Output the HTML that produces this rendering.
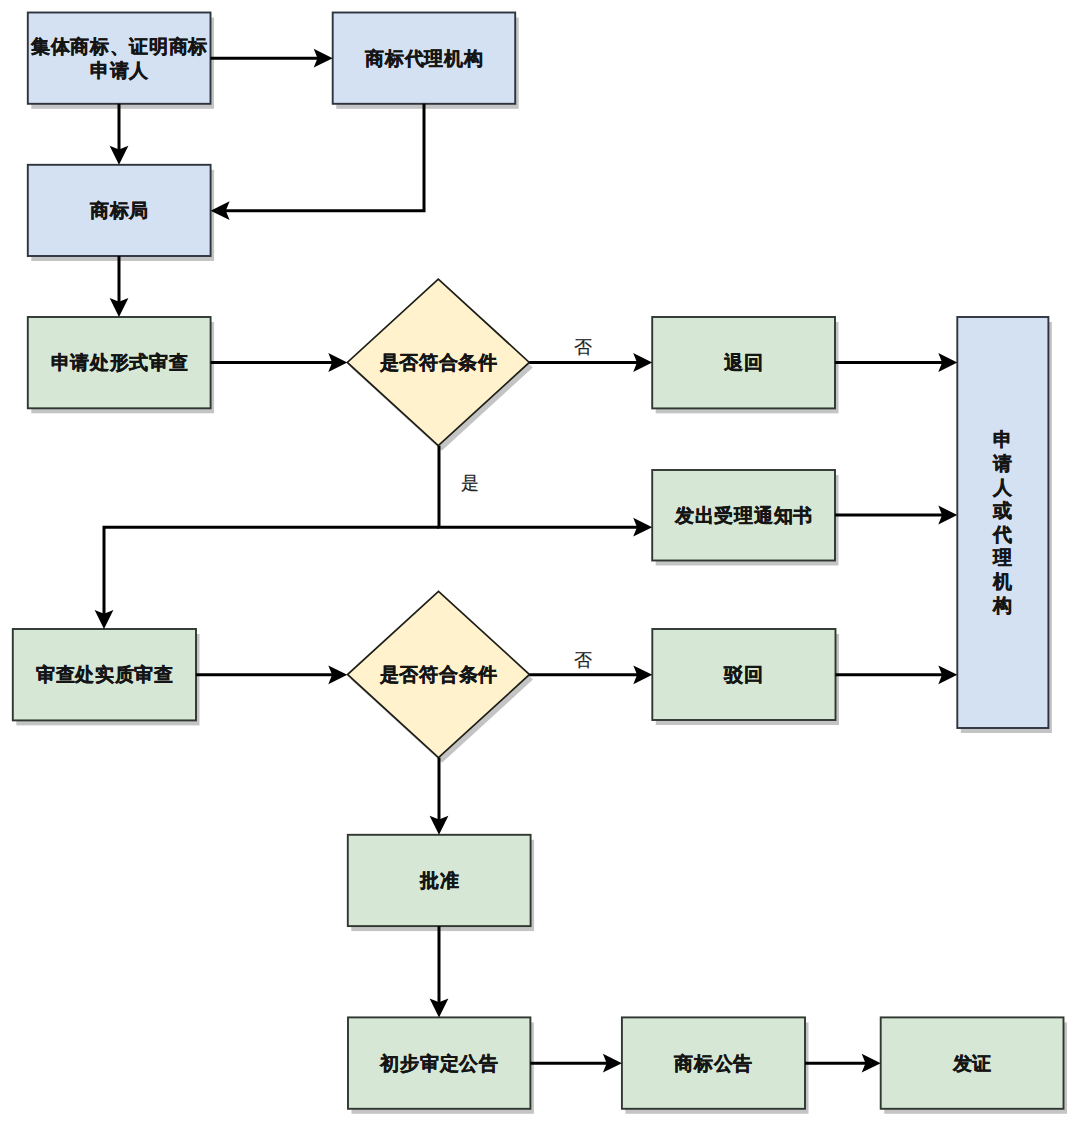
<!DOCTYPE html>
<html><head><meta charset="utf-8"><style>
html,body{margin:0;padding:0;background:#fff;width:1080px;height:1126px;overflow:hidden}
svg{display:block}
text{font-family:"Liberation Sans",sans-serif;text-anchor:middle;dominant-baseline:central}
.b{font-size:19px;font-weight:bold;fill:#151515;stroke:#151515;stroke-width:0.4px;letter-spacing:0.7px}
.r{font-size:18px;fill:#222;stroke:#222;stroke-width:0.2px}
</style></head><body>
<svg width="1080" height="1126" viewBox="0 0 1080 1126">
<defs><filter id="sh" x="-5%" y="-5%" width="110%" height="110%"><feGaussianBlur stdDeviation="0.6"/></filter></defs>
<g filter="url(#sh)">
<rect x="31.3" y="17.5" width="182.7" height="91.3" fill="#000" fill-opacity="0.23"/>
<rect x="336.2" y="17.5" width="182.5" height="91.3" fill="#000" fill-opacity="0.23"/>
<rect x="31.3" y="169.8" width="182.8" height="91.2" fill="#000" fill-opacity="0.23"/>
<rect x="31.3" y="322" width="182.8" height="91.3" fill="#000" fill-opacity="0.23"/>
<rect x="655.7" y="322" width="182.8" height="91.4" fill="#000" fill-opacity="0.23"/>
<rect x="655.7" y="475" width="182.8" height="90.5" fill="#000" fill-opacity="0.23"/>
<rect x="960.8" y="322" width="91.1" height="411.0" fill="#000" fill-opacity="0.23"/>
<rect x="16.3" y="634" width="183.2" height="91.4" fill="#000" fill-opacity="0.23"/>
<rect x="655.8" y="634" width="183.2" height="91.0" fill="#000" fill-opacity="0.23"/>
<rect x="351.3" y="839.8" width="182.8" height="91.3" fill="#000" fill-opacity="0.23"/>
<rect x="351.5" y="1022.4" width="182.4" height="91.4" fill="#000" fill-opacity="0.23"/>
<rect x="625.4" y="1022.4" width="183.1" height="91.4" fill="#000" fill-opacity="0.23"/>
<rect x="884.2" y="1022.4" width="182.8" height="91.4" fill="#000" fill-opacity="0.23"/>
<polygon points="441.8,284.09999999999997 532.8,367.4 441.8,450.7 350.8,367.4" fill="#000" fill-opacity="0.23"/>
<polygon points="442.0,596.3 533.0,679.5 442.0,762.7 351.0,679.5" fill="#000" fill-opacity="0.23"/>
</g>
<rect x="27.8" y="12.5" width="182.7" height="91.3" fill="#d4e1f3" stroke="#2e343e" stroke-width="1.9"/>
<rect x="332.7" y="12.5" width="182.5" height="91.3" fill="#d4e1f3" stroke="#2e343e" stroke-width="1.9"/>
<rect x="27.8" y="164.8" width="182.8" height="91.2" fill="#d4e1f3" stroke="#2e343e" stroke-width="1.9"/>
<rect x="27.8" y="317" width="182.8" height="91.3" fill="#d6e8d5" stroke="#2f3730" stroke-width="1.9"/>
<rect x="652.2" y="317" width="182.8" height="91.4" fill="#d6e8d5" stroke="#2f3730" stroke-width="1.9"/>
<rect x="652.2" y="470" width="182.8" height="90.5" fill="#d6e8d5" stroke="#2f3730" stroke-width="1.9"/>
<rect x="957.3" y="317" width="91.1" height="411.0" fill="#d4e1f3" stroke="#2e343e" stroke-width="1.9"/>
<rect x="12.8" y="629" width="183.2" height="91.4" fill="#d6e8d5" stroke="#2f3730" stroke-width="1.9"/>
<rect x="652.3" y="629" width="183.2" height="91.0" fill="#d6e8d5" stroke="#2f3730" stroke-width="1.9"/>
<rect x="347.8" y="834.8" width="182.8" height="91.3" fill="#d6e8d5" stroke="#2f3730" stroke-width="1.9"/>
<rect x="348" y="1017.4" width="182.4" height="91.4" fill="#d6e8d5" stroke="#2f3730" stroke-width="1.9"/>
<rect x="621.9" y="1017.4" width="183.1" height="91.4" fill="#d6e8d5" stroke="#2f3730" stroke-width="1.9"/>
<rect x="880.7" y="1017.4" width="182.8" height="91.4" fill="#d6e8d5" stroke="#2f3730" stroke-width="1.9"/>
<polygon points="438.3,279.09999999999997 529.3,362.4 438.3,445.7 347.3,362.4" fill="#fff2cc" stroke="#1e1e18" stroke-width="1.7"/>
<polygon points="438.5,591.3 529.5,674.5 438.5,757.7 347.5,674.5" fill="#fff2cc" stroke="#1e1e18" stroke-width="1.7"/>
<path d="M210.5,58.2 L319.7,58.2" fill="none" stroke="#000" stroke-width="3"/>
<polygon points="332.7,58.2 313.7,67.6 317.5,58.2 313.7,48.8" fill="#000"/>
<path d="M119.0,103.8 L119.0,151.8" fill="none" stroke="#000" stroke-width="3"/>
<polygon points="119.0,164.8 109.6,145.8 119.0,149.6 128.4,145.8" fill="#000"/>
<path d="M424.0,103.8 L424.0,210.7 L223.6,210.7" fill="none" stroke="#000" stroke-width="3"/>
<polygon points="210.6,210.7 229.6,201.3 225.8,210.7 229.6,220.1" fill="#000"/>
<path d="M119.0,256.0 L119.0,304.0" fill="none" stroke="#000" stroke-width="3"/>
<polygon points="119.0,317.0 109.6,298.0 119.0,301.8 128.4,298.0" fill="#000"/>
<path d="M210.6,362.5 L334.3,362.5" fill="none" stroke="#000" stroke-width="3"/>
<polygon points="347.3,362.5 328.3,371.9 332.1,362.5 328.3,353.1" fill="#000"/>
<path d="M529.3,362.5 L639.2,362.5" fill="none" stroke="#000" stroke-width="3"/>
<polygon points="652.2,362.5 633.2,371.9 637.0,362.5 633.2,353.1" fill="#000"/>
<path d="M835.0,362.5 L944.3,362.5" fill="none" stroke="#000" stroke-width="3"/>
<polygon points="957.3,362.5 938.3,371.9 942.1,362.5 938.3,353.1" fill="#000"/>
<path d="M439.0,445.7 L439.0,527.2 L639.2,527.2" fill="none" stroke="#000" stroke-width="3"/>
<polygon points="652.2,527.2 633.2,536.6 637.0,527.2 633.2,517.8" fill="#000"/>
<path d="M439.0,527.2 L104.0,527.2 L104.0,616.0" fill="none" stroke="#000" stroke-width="3"/>
<polygon points="104.0,629.0 94.6,610.0 104.0,613.8 113.4,610.0" fill="#000"/>
<path d="M835.0,515.0 L944.3,515.0" fill="none" stroke="#000" stroke-width="3"/>
<polygon points="957.3,515.0 938.3,524.4 942.1,515.0 938.3,505.6" fill="#000"/>
<path d="M196.0,674.8 L334.3,674.8" fill="none" stroke="#000" stroke-width="3"/>
<polygon points="347.3,674.8 328.3,684.2 332.1,674.8 328.3,665.4" fill="#000"/>
<path d="M529.3,674.8 L639.3,674.8" fill="none" stroke="#000" stroke-width="3"/>
<polygon points="652.3,674.8 633.3,684.2 637.1,674.8 633.3,665.4" fill="#000"/>
<path d="M835.5,674.8 L944.3,674.8" fill="none" stroke="#000" stroke-width="3"/>
<polygon points="957.3,674.8 938.3,684.2 942.1,674.8 938.3,665.4" fill="#000"/>
<path d="M439.0,757.7 L439.0,821.8" fill="none" stroke="#000" stroke-width="3"/>
<polygon points="439.0,834.8 429.6,815.8 439.0,819.6 448.4,815.8" fill="#000"/>
<path d="M439.0,926.1 L439.0,1004.4" fill="none" stroke="#000" stroke-width="3"/>
<polygon points="439.0,1017.4 429.6,998.4 439.0,1002.2 448.4,998.4" fill="#000"/>
<path d="M530.4,1063.2 L608.9,1063.2" fill="none" stroke="#000" stroke-width="3"/>
<polygon points="621.9,1063.2 602.9,1072.6 606.7,1063.2 602.9,1053.8" fill="#000"/>
<path d="M805.0,1063.2 L867.7,1063.2" fill="none" stroke="#000" stroke-width="3"/>
<polygon points="880.7,1063.2 861.7,1072.6 865.5,1063.2 861.7,1053.8" fill="#000"/>
<text x="119.5" y="46.1" class="b">集体商标、证明商标</text>
<text x="119.5" y="70.2" class="b">申请人</text>
<text x="424.3" y="58.1" class="b">商标代理机构</text>
<text x="119.5" y="210.4" class="b">商标局</text>
<text x="119.5" y="362.6" class="b">申请处形式审查</text>
<text x="744.0" y="362.7" class="b">退回</text>
<text x="744.0" y="515.2" class="b">发出受理通知书</text>
<text x="1003.2" y="439.9" class="b">申</text>
<text x="1003.2" y="463.5" class="b">请</text>
<text x="1003.2" y="487.1" class="b">人</text>
<text x="1003.2" y="510.7" class="b">或</text>
<text x="1003.2" y="534.3" class="b">代</text>
<text x="1003.2" y="557.9" class="b">理</text>
<text x="1003.2" y="581.5" class="b">机</text>
<text x="1003.2" y="605.1" class="b">构</text>
<text x="104.8" y="674.7" class="b">审查处实质审查</text>
<text x="744.2" y="674.5" class="b">驳回</text>
<text x="439.6" y="880.5" class="b">批准</text>
<text x="439.6" y="1063.1" class="b">初步审定公告</text>
<text x="713.8" y="1063.1" class="b">商标公告</text>
<text x="972.5" y="1063.1" class="b">发证</text>
<text x="438.65000000000003" y="362.4" class="b">是否符合条件</text>
<text x="438.85" y="674.5" class="b">是否符合条件</text>
<text x="582.5" y="347.3" class="r">否</text>
<text x="470" y="483.3" class="r">是</text>
<text x="582.5" y="659.5" class="r">否</text>
</svg></body></html>
